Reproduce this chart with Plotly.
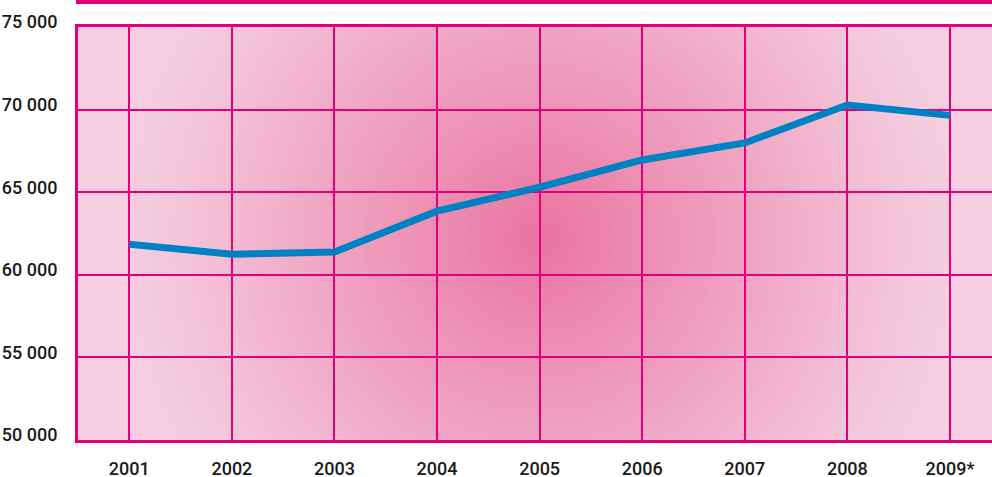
import plotly.graph_objects as go

years = ["2001", "2002", "2003", "2004", "2005", "2006", "2007", "2008", "2009*"]
values = [61850, 61250, 61380, 63850, 65300, 66950, 67980, 70280, 69650]
y_ticks = [50000, 55000, 60000, 65000, 70000, 75000]
y_tick_labels = ["50 000", "55 000", "60 000", "65 000", "70 000", "75 000"]

W, H = 992, 477
ML, MR, MT, MB = 78, 0, 27, 37
XR = [-0.5, 8.41]
YR = [50000, 75000]
plot_w = W - ML - MR
plot_h = H - MT - MB
px_per_x = plot_w / (XR[1] - XR[0])
px_per_y = plot_h / (YR[1] - YR[0])

outer = (245, 207, 223)
inner = (233, 115, 160)

# radial gradient background made of concentric circles (decoration)
cx_px, cy_px = 540, 238
cx = XR[0] + (cx_px - ML) / px_per_x
cy = YR[1] - (cy_px - MT) / px_per_y
R = 420
N = 70
shapes = []
for i in range(N):
    t = i / (N - 1)
    r = max(R * (1 - t), 2)
    f = t ** 1.1
    col = tuple(round(outer[k] + (inner[k] - outer[k]) * f) for k in range(3))
    rx = r / px_per_x
    ry = r / px_per_y
    shapes.append(dict(type="circle", xref="x", yref="y", layer="below",
                       x0=cx - rx, x1=cx + rx, y0=cy - ry, y1=cy + ry,
                       fillcolor="rgb(%d,%d,%d)" % col, line=dict(width=0)))

# top magenta rule
shapes.append(dict(type="line", xref="paper", yref="paper",
                   x0=-2 / plot_w, x1=1, y0=1 + (MT - 2) / plot_h, y1=1 + (MT - 2) / plot_h,
                   line=dict(color="#E2007A", width=4)))

fig = go.Figure()
fig.add_trace(go.Scatter(x=years, y=values, mode="lines",
                         line=dict(color="#0081C3", width=7),
                         hoverinfo="skip", showlegend=False))

font = dict(family="Roboto, sans-serif", size=18, color="#1a1a1a", weight=500)

fig.update_layout(
    width=W, height=H,
    margin=dict(l=ML, r=MR, t=MT, b=MB, pad=0, autoexpand=False),
    paper_bgcolor="white",
    plot_bgcolor="rgb(%d,%d,%d)" % outer,
    shapes=shapes,
    showlegend=False,
    xaxis=dict(type="category", range=XR, showgrid=True, gridcolor="#E2007A", gridwidth=2,
               showline=True, linecolor="#E2007A", linewidth=3, mirror=True,
               ticks="", tickfont=font, ticklabelstandoff=10, zeroline=False,
               automargin=False),
    yaxis=dict(range=YR, tickvals=y_ticks, ticktext=y_tick_labels,
               showgrid=True, gridcolor="#E2007A", gridwidth=2,
               showline=True, linecolor="#E2007A", linewidth=3, mirror=False,
               ticks="", tickfont=font, ticklabelstandoff=14, ticklabelshift=-5,
               zeroline=False, automargin=False),
)

fig.write_html("out.html", config={"displayModeBar": False},
               post_script="document.body.style.margin='0px';document.body.style.overflow='hidden';")
